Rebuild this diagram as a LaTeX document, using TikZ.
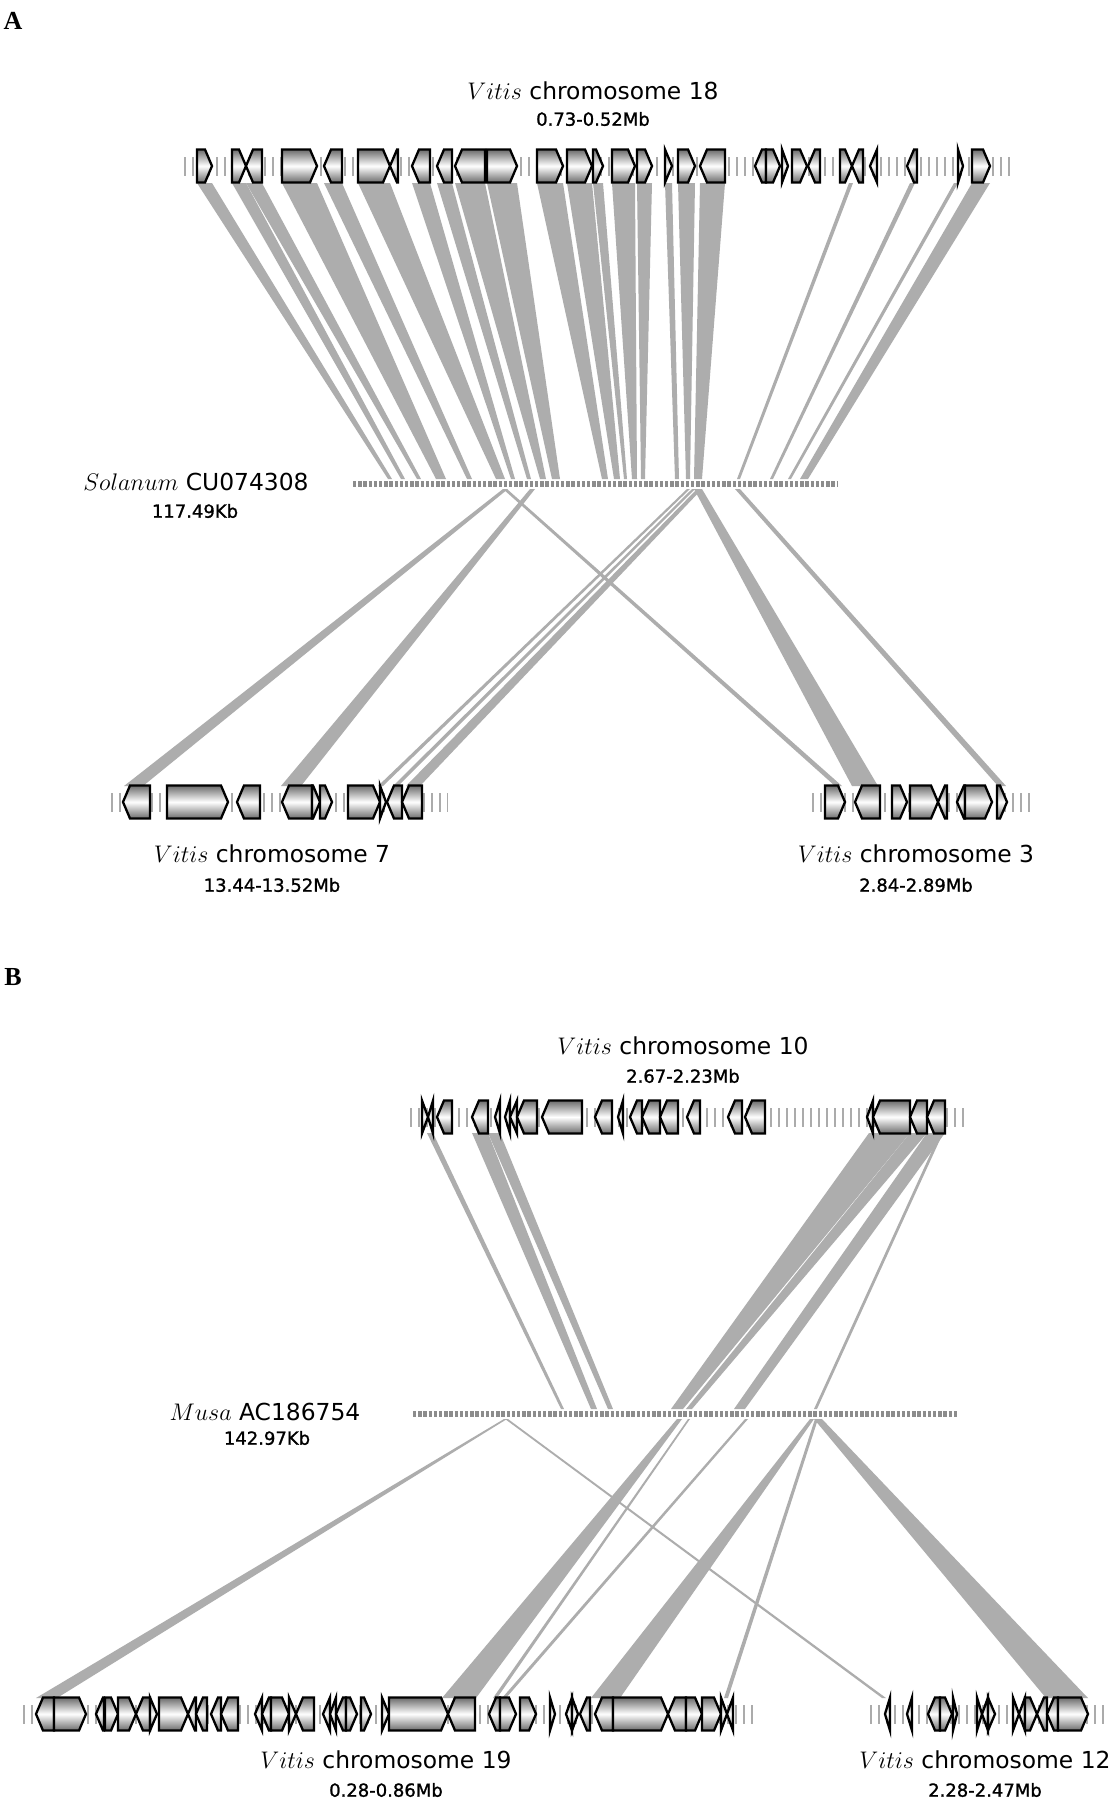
\documentclass[tikz,border=0pt]{standalone}
\usepackage[no-math]{fontspec}
\setmainfont{DejaVu Sans}
\newfontfamily\subfont{DejaVu Sans}[FakeBold=1.2]
\newfontfamily\panelfont{Liberation Serif}
\tikzset{
 gene/.style={draw=black, line width=1.15pt, line join=miter, top color=black!58, bottom color=black!58, middle color=white},
 ribbon/.style={fill=black!32},
 ticks/.style={draw=black!33, line width=9.5pt, dash pattern=on 1.1pt off 2.9pt},
 dots/.style={draw=black!45, line width=3.4pt, dash pattern=on 1.7pt off 0.9pt},
 ttl/.style={font=\fontsize{11.7}{14}\selectfont, inner sep=0pt},
 sub/.style={font=\subfont\fontsize{9}{11}\selectfont, inner sep=0pt},
 panel/.style={font=\panelfont\bfseries\fontsize{13}{15}\selectfont, inner sep=0pt}
}
\newcommand\gR[3]{\pgfmathsetmacro\gp{min(7,#2-#1)}\path[gene] (#1,#3-16.5) -- ({#2-\gp},#3-16.5) -- (#2,#3) -- ({#2-\gp},#3+16.5) -- (#1,#3+16.5) -- cycle;}
\newcommand\gL[3]{\pgfmathsetmacro\gp{min(7,#2-#1)}\path[gene] (#2,#3-16.5) -- ({#1+\gp},#3-16.5) -- (#1,#3) -- ({#1+\gp},#3+16.5) -- (#2,#3+16.5) -- cycle;}
\newcommand\rib[6]{\fill[ribbon] (#1,#3) -- (#2,#3) -- (#5,#6) -- (#4,#6) -- cycle;}
\begin{document}
\begin{tikzpicture}[x=0.5pt,y=-0.5pt]
\useasboundingbox (0,0) rectangle (1112,1800);
\fill[white] (0,0) rectangle (1112,1800);

% ---------------- Panel A ----------------
\node[panel] (la) at (13,21) {A};
\node[ttl] (t18) at (593,91) {$Vitis$ chromosome 18};
\node[sub] (m18) at (593,119) {0.73-0.52Mb};
\node[ttl] (tsol) at (196,482) {$Solanum$ CU074308};
\node[sub] (msol) at (195,511) {117.49Kb};
\node[ttl] (t7) at (272,854) {$Vitis$ chromosome 7};
\node[sub] (m7) at (272,885) {13.44-13.52Mb};
\node[ttl] (t3) at (916,854) {$Vitis$ chromosome 3};
\node[sub] (m3) at (916,885) {2.84-2.89Mb};

% ribbons top -> Solanum
\rib{197}{212}{183}{388}{392}{479}
\rib{232}{246}{183}{401}{405}{479}
\rib{246}{262}{183}{417}{421}{479}
\rib{282}{317}{183}{436}{446}{479}
\rib{324}{342}{183}{467}{472}{479}
\rib{358}{390}{183}{496}{505}{479}
\rib{412}{430}{183}{511}{515}{479}
\rib{437}{452}{183}{527}{531}{479}
\rib{455}{485}{183}{540}{546}{479}
\rib{487}{517}{183}{552}{560}{479}
\rib{537}{563}{183}{602}{608}{479}
\rib{567}{592}{183}{614}{620}{479}
\rib{593}{603}{183}{624}{627}{479}
\rib{612}{635}{183}{632}{637}{479}
\rib{637}{652}{183}{641}{645}{479}
\rib{665}{672}{183}{675}{679}{479}
\rib{678}{695}{183}{686}{690}{479}
\rib{700}{725}{183}{694}{702}{479}
\rib{849}{853}{183}{737}{740}{479}
\rib{910}{915}{183}{770}{773}{479}
\rib{954}{958}{183}{788}{791}{479}
\rib{972}{990}{183}{800}{808}{479}
% ribbons Solanum -> chr7 / chr3
\rib{503}{508}{489}{124}{143}{786}
\rib{530}{535}{489}{281}{301}{786}
\rib{503}{507}{489}{835}{842}{786}
\rib{687}{690}{489}{378}{383}{786}
\rib{692}{695}{489}{393}{398}{786}
\rib{697}{702}{489}{406}{420}{786}
\rib{694}{702}{489}{852}{878}{786}
\rib{735}{740}{489}{998}{1006}{786}

% tracks
\draw[ticks] (184,166) -- (1012,166);
\draw[dots] (353,484) -- (838,484);
\draw[ticks] (111,802) -- (448,802);
\draw[ticks] (812,802) -- (1033,802);

% chr18 genes
\gR{197}{212}{166}
\gR{232}{246}{166}
\gL{246}{262}{166}
\gR{282}{317}{166}
\gL{324}{342}{166}
\gR{358}{390}{166}
\gL{390}{398}{166}
\gL{412}{430}{166}
\gL{437}{452}{166}
\gL{455}{485}{166}
\gR{487}{517}{166}
\gR{537}{563}{166}
\gR{567}{592}{166}
\gR{593}{603}{166}
\gR{612}{635}{166}
\gR{637}{652}{166}
\gR{665}{672}{166}
\gR{678}{695}{166}
\gL{700}{725}{166}
\gL{755}{766}{166}
\gR{766}{780}{166}
\gR{782}{788}{166}
\gR{792}{807}{166}
\gL{808}{820}{166}
\gR{840}{852}{166}
\gL{852}{863}{166}
\gL{870}{877}{166}
\gL{907}{917}{166}
\gR{958}{963}{166}
\gR{972}{990}{166}
% chr7 genes
\gL{123}{150}{802}
\gR{167}{228}{802}
\gL{237}{260}{802}
\gL{282}{312}{802}
\gR{312}{320}{802}
\gR{320}{332}{802}
\gR{348}{380}{802}
\gR{380}{386}{802}
\gL{387}{402}{802}
\gL{402}{422}{802}
% chr3 genes
\gR{825}{845}{802}
\gL{855}{880}{802}
\gR{892}{907}{802}
\gR{910}{938}{802}
\gL{938}{947}{802}
\gL{957}{965}{802}
\gR{965}{992}{802}
\gR{997}{1007}{802}

% ---------------- Panel B ----------------
\node[panel] (lb) at (13,977) {B};
\node[ttl] (t10) at (683,1046) {$Vitis$ chromosome 10};
\node[sub] (m10) at (683,1076) {2.67-2.23Mb};
\node[ttl] (tmus) at (265,1412) {$Musa$ AC186754};
\node[sub] (mmus) at (267,1438) {142.97Kb};
\node[ttl] (t19) at (386,1760) {$Vitis$ chromosome 19};
\node[sub] (m19) at (386,1790) {0.28-0.86Mb};
\node[ttl] (t12) at (985,1760) {$Vitis$ chromosome 12};
\node[sub] (m12) at (985,1790) {2.28-2.47Mb};

% ribbons chr10 -> Musa
\rib{427}{433}{1133}{561}{564}{1409}
\rib{472}{488}{1133}{591}{597}{1409}
\rib{488}{500}{1133}{608}{613}{1409}
\rib{869}{910}{1133}{671}{683}{1409}
\rib{910}{927}{1133}{686}{692}{1409}
\rib{927}{945}{1133}{734}{745}{1409}
\rib{940}{943}{1133}{814}{817}{1409}
% ribbons Musa -> chr19 / chr12
\rib{504}{507}{1419}{36}{57}{1698}
\rib{505}{508}{1419}{882}{886}{1698}
\rib{677}{682}{1419}{442}{476}{1698}
\rib{688}{690}{1419}{493}{497}{1698}
\rib{745}{748}{1419}{502}{506}{1698}
\rib{810}{814}{1419}{591}{620}{1698}
\rib{815}{818}{1419}{724}{728}{1698}
\rib{814}{822}{1419}{1046}{1088}{1698}

% tracks
\draw[ticks] (410,1117) -- (968,1117);
\draw[dots] (413,1414) -- (958,1414);
\draw[ticks] (23,1714) -- (753,1714);
\draw[ticks] (870,1714) -- (1107,1714);

% chr10 genes
\gR{422}{428}{1117}
\gL{428}{433}{1117}
\gL{437}{452}{1117}
\gL{472}{488}{1117}
\gL{495}{500}{1117}
\gL{505}{510}{1117}
\gL{510}{517}{1117}
\gL{517}{537}{1117}
\gL{542}{582}{1117}
\gL{595}{612}{1117}
\gL{618}{623}{1117}
\gL{630}{642}{1117}
\gL{642}{660}{1117}
\gL{660}{678}{1117}
\gL{687}{700}{1117}
\gL{728}{742}{1117}
\gL{745}{765}{1117}
\gL{867}{873}{1117}
\gL{873}{910}{1117}
\gL{910}{927}{1117}
\gL{927}{945}{1117}
% chr19 genes
\gL{36}{54}{1714}
\gR{54}{86}{1714}
\gL{96}{104}{1714}
\gR{105}{118}{1714}
\gR{118}{136}{1714}
\gL{136}{150}{1714}
\gR{150}{157}{1714}
\gR{159}{188}{1714}
\gL{188}{196}{1714}
\gL{196}{207}{1714}
\gL{211}{221}{1714}
\gL{221}{238}{1714}
\gL{255}{262}{1714}
\gL{262}{271}{1714}
\gR{271}{289}{1714}
\gR{289}{296}{1714}
\gL{296}{314}{1714}
\gL{323}{330}{1714}
\gL{330}{336}{1714}
\gL{336}{346}{1714}
\gR{346}{357}{1714}
\gR{361}{371}{1714}
\gR{382}{389}{1714}
\gR{389}{448}{1714}
\gL{448}{475}{1714}
\gL{489}{500}{1714}
\gR{500}{516}{1714}
\gR{520}{536}{1714}
\gR{550}{555}{1714}
\gL{566}{572}{1714}
\gR{572}{578}{1714}
\gL{580}{590}{1714}
\gL{595}{613}{1714}
\gR{613}{668}{1714}
\gL{668}{686}{1714}
\gR{686}{702}{1714}
\gR{702}{721}{1714}
\gR{721}{727}{1714}
\gL{727}{733}{1714}
% chr12 genes
\gL{885}{890}{1714}
\gL{907}{912}{1714}
\gL{928}{940}{1714}
\gR{940}{952}{1714}
\gR{953}{957}{1714}
\gR{977}{982}{1714}
\gL{982}{988}{1714}
\gR{988}{995}{1714}
\gR{1013}{1019}{1714}
\gL{1019}{1025}{1714}
\gR{1025}{1037}{1714}
\gL{1037}{1047}{1714}
\gL{1047}{1058}{1714}
\gR{1058}{1088}{1714}
\end{tikzpicture}
\end{document}
